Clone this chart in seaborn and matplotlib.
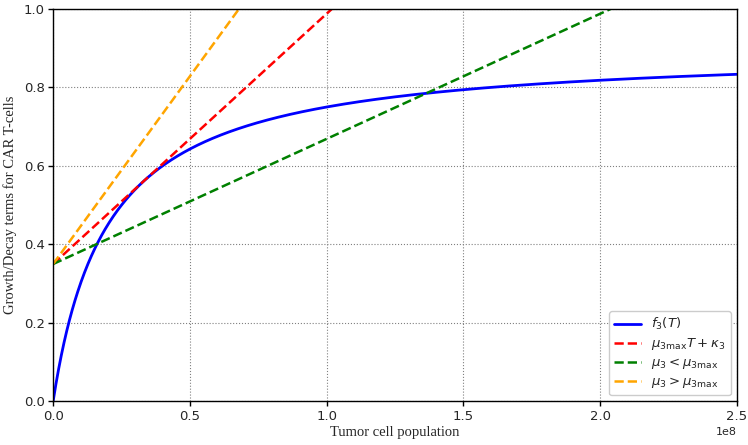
import numpy as np
import pandas as pd
import seaborn as sns
import matplotlib
matplotlib.use("Agg")
import matplotlib.pyplot as plt

# Model parameters
rho3 = 0.9          # saturation level of f3
gamma3 = 2e7        # half-saturation tumor population
kappa3 = 0.35       # intercept of the linear terms
slope_factors = [1.0, 0.5, 1.5]   # multiples of mu_3max
series_labels = [r"$\mu_{3\max}T+\kappa_3$", r"$\mu_3<\mu_{3\max}$", r"$\mu_3>\mu_{3\max}$"]
series_colors = ["red", "green", "orange"]

T_max = 2.5e8

# tangent slope of the line from (0, kappa3) to f3(T) = rho3*T/(gamma3+T)
T_tan = gamma3 / (np.sqrt(rho3 / kappa3) - 1.0)
mu3max = rho3 * gamma3 / (gamma3 + T_tan) ** 2

T = np.linspace(0, T_max, 1000)
f3 = rho3 * T / (gamma3 + T)

sns.set_style("white")
fig, ax = plt.subplots(figsize=(7.48, 4.45), dpi=100)

df = pd.DataFrame({"T": T, "f": f3})
sns.lineplot(data=df, x="T", y="f", ax=ax, color="blue", lw=2, label=r"$f_3(T)$")
for fac, lab, col in zip(slope_factors, series_labels, series_colors):
    line = pd.DataFrame({"T": T, "f": kappa3 + fac * mu3max * T})
    sns.lineplot(data=line, x="T", y="f", ax=ax, color=col, lw=1.8, ls="--", label=lab)

ax.set_xlim(0, T_max)
ax.set_ylim(0, 1.0)
ax.grid(True, color="gray", ls=":", lw=0.8)
for s in ax.spines.values():
    s.set_color("black")
    s.set_linewidth(1.0)
ax.tick_params(axis="both", which="both", direction="out", length=3.5, width=1,
               color="black", labelsize=9.5, pad=2.5, left=True, bottom=True)
ax.xaxis.get_offset_text().set_fontsize(8)
ax.set_xlabel("Tumor cell population", family="Liberation Serif", fontsize=10.5, labelpad=2)
ax.set_ylabel("Growth/Decay terms for CAR T-cells", family="Liberation Serif", fontsize=10.5, labelpad=5)
ax.legend(loc="lower right", fontsize=9.5, frameon=True, framealpha=1, borderpad=0.4,
          handlelength=2.0, labelspacing=0.3, borderaxespad=0.45)

fig.subplots_adjust(left=0.071, right=0.985, top=0.98, bottom=0.098)
fig.savefig("out.png", dpi=100)
